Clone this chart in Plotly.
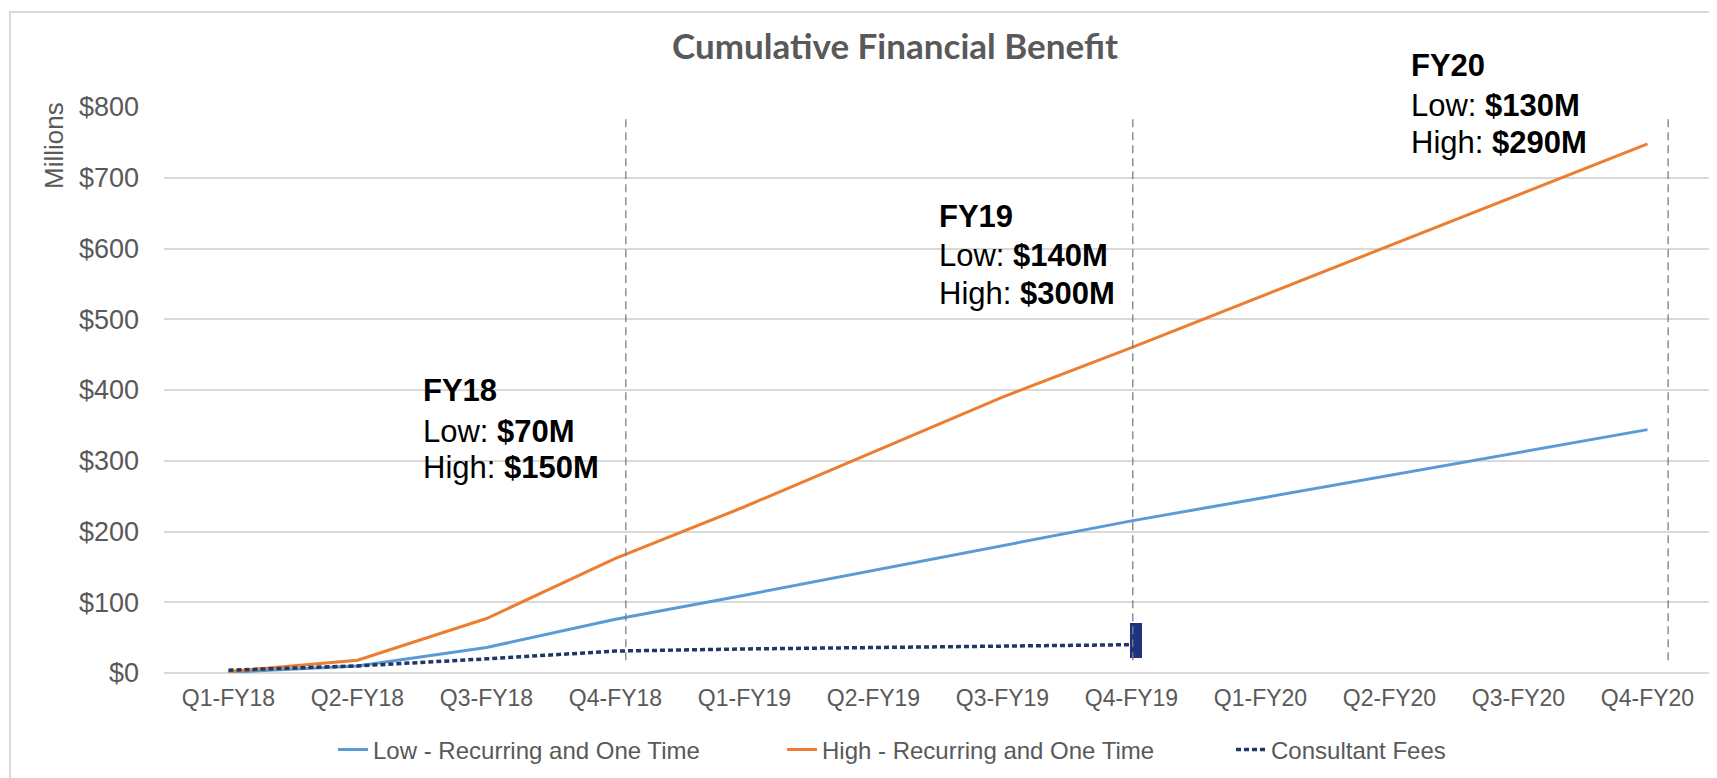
import plotly.graph_objects as go

# ---------------- data ----------------
quarters = ["Q1-FY18", "Q2-FY18", "Q3-FY18", "Q4-FY18",
            "Q1-FY19", "Q2-FY19", "Q3-FY19", "Q4-FY19",
            "Q1-FY20", "Q2-FY20", "Q3-FY20", "Q4-FY20"]
low_values = [1, 10, 36, 76, 110, 145, 180, 215, 247, 279, 311, 344]
high_values = [2, 18, 77, 162, 235, 313, 390, 460, 532, 604, 676, 748]
fee_quarters = ["Q1-FY18", "Q2-FY18", "Q3-FY18", "Q4-FY18",
                "Q1-FY19", "Q2-FY19", "Q3-FY19", "Q4-FY19"]
fee_values = [4, 10, 20, 31, 34, 36, 38, 40]
fee_range_quarter = ["Q4-FY19"]
fee_range_low = [21]
fee_range_high = [70]

series_names = ["Low - Recurring and One Time", "High - Recurring and One Time", "Consultant Fees"]
fy_labels = ["FY18", "FY19", "FY20"]
fy_low = ["$70M", "$140M", "$130M"]
fy_high = ["$150M", "$300M", "$290M"]
y_ticks = [0, 100, 200, 300, 400, 500, 600, 700, 800]
y_ticktext = ["$" + str(v) for v in y_ticks]

# ---------------- layout geometry ----------------
OFF = 8                      # page body margin of the html page
W, H = 1717 - OFF, 778 - OFF
ML, MR, MT, MB = 164 - OFF, 5, 107 - OFF, 105
PW, PH = W - ML - MR, H - MT - MB

BLUE = "#5B9BD5"
ORANGE = "#ED7D31"
NAVY = "#1F3864"
GRID = "#D9D9D9"
TXT = "#595959"
FONT = "Liberation Sans, Arial, sans-serif"


def px_x(px):   # viewport pixel -> paper x
    return (px - OFF - ML) / PW


def px_y(py):   # viewport pixel -> paper y
    return (H - MB - (py - OFF)) / PH


fig = go.Figure()
fig.add_trace(go.Scatter(x=quarters, y=low_values, mode="lines", name=series_names[0],
                         line=dict(color=BLUE, width=3)))
fig.add_trace(go.Scatter(x=quarters, y=high_values, mode="lines", name=series_names[1],
                         line=dict(color=ORANGE, width=3)))
fig.add_trace(go.Scatter(x=fee_quarters, y=fee_values, mode="lines", name=series_names[2],
                         line=dict(color=NAVY, width=3.5, dash="5px,3px")))
fig.add_trace(go.Bar(x=fee_range_quarter,
                     y=[h - l for h, l in zip(fee_range_high, fee_range_low)],
                     base=fee_range_low, width=0.093, offset=-0.01,
                     marker=dict(color="#1F3480", line=dict(width=0)),
                     showlegend=False, hoverinfo="skip"))

# vertical dashed year separators (category-index coordinates)
for xpos in [3.08, 7.01, 11.16]:
    fig.add_shape(type="line", xref="x", yref="y", x0=xpos, x1=xpos, y0=18, y1=786,
                  line=dict(color="#7F7F7F", width=1.3, dash="8px,5px"), layer="above")

# outer chart border
fig.add_shape(type="rect", xref="paper", yref="paper",
              x0=px_x(10), x1=px_x(1714), y0=-0.4, y1=px_y(12),
              line=dict(color=GRID, width=2), fillcolor="rgba(0,0,0,0)", layer="below")

# year annotations
ann_x = [1.508, 5.505, 9.167]
ann_y = [[398.6, 342.0, 291.0], [644.8, 589.6, 535.8], [858.4, 801.8, 750.2]]
for i in range(3):
    lines = ["<b>" + fy_labels[i] + "</b>",
             "Low: <b>" + fy_low[i] + "</b>",
             "High: <b>" + fy_high[i] + "</b>"]
    for j, t in enumerate(lines):
        fig.add_annotation(x=ann_x[i], y=ann_y[i][j] / 800, xref="x", yref="paper", text=t,
                           showarrow=False, xanchor="left", yanchor="middle", xshift=-2,
                           font=dict(family=FONT, size=31, color="#000000"))

# y-axis title "Millions"
fig.add_annotation(x=px_x(54), y=px_y(146), xref="paper", yref="paper",
                   text="Millions", showarrow=False, textangle=-90,
                   xanchor="center", yanchor="middle",
                   font=dict(family=FONT, size=26, color=TXT))

fig.update_layout(
    width=W, height=H,
    margin=dict(l=ML, r=MR, t=MT, b=MB, autoexpand=False),
    paper_bgcolor="white", plot_bgcolor="white",
    title=dict(text="<b>Cumulative Financial Benefit</b>", x=(895 - OFF) / W, xanchor="center",
               y=1 - (47 - OFF) / H, yanchor="middle",
               font=dict(family="Lato, Open Sans, sans-serif", size=35, color=TXT)),
    showlegend=True,
    legend=dict(orientation="h", x=px_x(333), xanchor="left",
                y=px_y(750), yanchor="middle",
                font=dict(family=FONT, size=24, color=TXT),
                entrywidth=404, entrywidthmode="pixels", bgcolor="rgba(0,0,0,0)"),
    bargap=0,
)
fig.update_xaxes(type="category", categoryorder="array", categoryarray=quarters,
                 range=[-0.5, 11.5], showgrid=False, zeroline=False, showline=False,
                 ticks="", ticklabelstandoff=9,
                 tickfont=dict(family=FONT, size=23, color=TXT))
fig.update_yaxes(range=[0, 800], tickvals=y_ticks, ticktext=y_ticktext,
                 showgrid=True, gridcolor=GRID, gridwidth=2,
                 zeroline=True, zerolinecolor=GRID, zerolinewidth=2,
                 showline=False, ticks="", ticklabelstandoff=24,
                 tickfont=dict(family=FONT, size=27, color=TXT))

fig.write_html("out.html")
